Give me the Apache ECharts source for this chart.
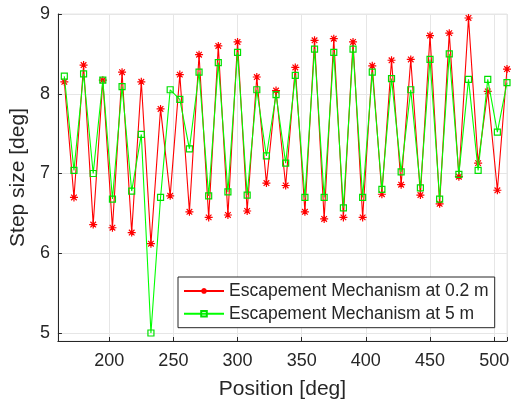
<!DOCTYPE html>
<html>
<head>
<meta charset="utf-8">
<script src="https://cdn.jsdelivr.net/npm/echarts@6/dist/echarts.min.js"></script>
<style>html,body{margin:0;padding:0;background:#fff;}#c{width:514px;height:405px;}</style>
</head>
<body>
<div id="c"></div>
<script>
const positions = [165,172.5,180,187.5,195,202.5,210,217.5,225,232.5,240,247.5,255,262.5,270,277.5,285,292.5,300,307.5,315,322.5,330,337.5,345,352.5,360,367.5,375,382.5,390,397.5,405,412.5,420,427.5,435,442.5,450,457.5,465,472.5,480,487.5,495,502.5,510];
const stepRed = [8.15,6.70,8.36,6.36,8.17,6.32,8.27,6.26,8.15,6.12,7.81,6.72,8.24,6.52,8.49,6.45,8.60,6.48,8.65,6.53,8.21,6.88,8.04,6.85,8.33,6.52,8.67,6.43,8.69,6.45,8.65,6.45,8.35,6.74,8.42,6.86,8.43,6.73,8.73,6.62,8.76,6.96,8.95,7.13,8.03,6.79,8.31];
const stepGreen = [8.22,7.04,8.25,7.00,8.17,6.68,8.09,6.78,7.49,5.00,6.70,8.05,7.93,7.31,8.27,6.72,8.39,6.77,8.52,6.73,8.05,7.22,7.99,7.13,8.23,6.70,8.56,6.70,8.52,6.57,8.56,6.70,8.27,6.80,8.19,7.02,8.05,6.82,8.43,6.68,8.50,6.99,8.18,7.04,8.18,7.52,8.14];
const seriesNames = ['Escapement Mechanism at 0.2 m','Escapement Mechanism at 5 m'];
const xTitle = 'Position [deg]';
const yTitle = 'Step size [deg]';

const font = '"Liberation Sans", Arial, sans-serif';
const dark = '#262626';
const gridC = '#e6e6e6';
const star = 'path://M0,5L10,5M5,0L5,10M1.5,1.5L8.5,8.5M8.5,1.5L1.5,8.5';

const chart = echarts.init(document.getElementById('c'), null, {renderer:'canvas'});
chart.setOption({
  animation: false,
  backgroundColor: '#fff',
  grid: {left: 57, top: 14, width: 450, height: 327, show: true, borderColor: gridC, borderWidth: 1, containLabel: false},
  xAxis: {
    type: 'value', min: 160, max: 510, splitNumber: 7,
    axisLine: {show: true, onZero: false, lineStyle: {color: dark, width: 1}},
    axisTick: {show: true, inside: true, length: 4, lineStyle: {color: dark}},
    axisLabel: {color: dark, fontSize: 18, fontFamily: font, margin: 11,
      formatter: v => (v % 50 === 0 && v >= 200 && v <= 500) ? String(v) : ''},
    splitLine: {show: true, lineStyle: {color: gridC, width: 1}},
    name: xTitle, nameLocation: 'middle', nameGap: 38,
    nameTextStyle: {color: dark, fontSize: 21, fontFamily: font}
  },
  yAxis: {
    type: 'value', min: 4.9, max: 9, splitNumber: 4,
    axisLine: {show: true, onZero: false, lineStyle: {color: dark, width: 1}},
    axisTick: {show: true, inside: true, length: 4, lineStyle: {color: dark}},
    axisLabel: {color: dark, fontSize: 18, fontFamily: font, margin: 8,
      formatter: v => (Math.abs(v - Math.round(v)) < 1e-9 && v >= 5) ? String(Math.round(v)) : ''},
    splitLine: {show: true, lineStyle: {color: gridC, width: 1}},
    name: yTitle, nameLocation: 'middle', nameGap: 27, nameRotate: 90,
    nameTextStyle: {color: dark, fontSize: 21, fontFamily: font}
  },
  legend: {
    orient: 'vertical', left: 178, top: 277,
    padding: [4, 6, 4, 5], itemGap: 2.7, itemWidth: 40, itemHeight: 7, itemTextGap: 5,
    backgroundColor: '#fff', borderColor: dark, borderWidth: 1, borderRadius: 0,
    textStyle: {color: dark, fontSize: 17.5, fontFamily: font, lineHeight: 20},
    data: seriesNames
  },
  series: [
    {
      name: seriesNames[0], type: 'line',
      data: positions.map((p, i) => [p, stepRed[i]]),
      symbol: star, symbolSize: 8, showSymbol: true,
      lineStyle: {color: '#ff0000', width: 1.1},
      itemStyle: {color: '#ff0000', borderColor: '#ff0000', borderWidth: 1.2},
      z: 2
    },
    {
      name: seriesNames[1], type: 'line',
      data: positions.map((p, i) => [p, stepGreen[i]]),
      symbol: 'rect', symbolSize: 6, showSymbol: true,
      lineStyle: {color: '#00ff00', width: 1.1},
      itemStyle: {color: 'rgba(255,255,255,0)', borderColor: '#00e000', borderWidth: 1.2},
      z: 3
    }
  ]
});
</script>
</body>
</html>
